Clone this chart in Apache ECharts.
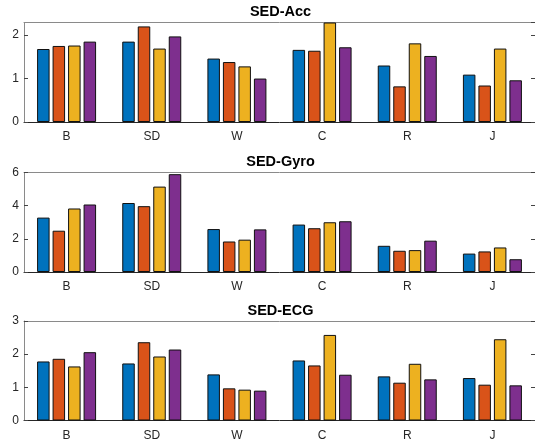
<!DOCTYPE html>
<html>
<head>
<meta charset="utf-8">
<script src="https://cdn.jsdelivr.net/npm/echarts@6/dist/echarts.min.js"></script>
<style>html,body{margin:0;padding:0;background:#fff;}#c{width:535px;height:443px;}</style>
</head>
<body>
<div id="c"></div>
<script>
var categories = ['B', 'SD', 'W', 'C', 'R', 'J'];
var titles = ['SED-Acc', 'SED-Gyro', 'SED-ECG'];
var yMax = [2.29, 6, 3];
var yTicks = [[0, 1, 2], [0, 2, 4, 6], [0, 1, 2, 3]];
var colors = ['#0072BD', '#D95319', '#EDB120', '#7E2F8E'];

// SED-Acc
var acc1 = [1.68, 1.85, 1.46, 1.66, 1.30, 1.09];
var acc2 = [1.75, 2.20, 1.38, 1.64, 0.82, 0.84];
var acc3 = [1.76, 1.69, 1.28, 2.29, 1.81, 1.69];
var acc4 = [1.85, 1.97, 1.00, 1.72, 1.52, 0.96];
// SED-Gyro
var gyro1 = [3.28, 4.16, 2.59, 2.86, 1.58, 1.11];
var gyro2 = [2.49, 3.97, 1.84, 2.64, 1.28, 1.24];
var gyro3 = [3.83, 5.15, 1.95, 3.00, 1.32, 1.48];
var gyro4 = [4.07, 5.90, 2.57, 3.06, 1.89, 0.77];
// SED-ECG
var ecg1 = [1.78, 1.72, 1.39, 1.81, 1.33, 1.28];
var ecg2 = [1.86, 2.36, 0.97, 1.66, 1.14, 1.08];
var ecg3 = [1.63, 1.93, 0.93, 2.58, 1.71, 2.45];
var ecg4 = [2.06, 2.14, 0.90, 1.38, 1.24, 1.06];

var panels = [[acc1, acc2, acc3, acc4], [gyro1, gyro2, gyro3, gyro4], [ecg1, ecg2, ecg3, ecg4]];

var gridTops = [22.5, 172.5, 321];
var gridH = 99.5;
var plotLeft = 24, plotW = 514;
var titleMid = [12.3, 162, 310.5];

var grids = [], xAxes = [], yAxes = [], series = [], graphics = [];
var font = 'Liberation Sans, Arial, Helvetica, sans-serif';
for (var p = 0; p < 3; p++) {
  grids.push({left: plotLeft, top: gridTops[p], width: plotW, height: gridH, containLabel: false});
  graphics.push({type: 'text', x: 280.5, y: titleMid[p], silent: true,
    style: {text: titles[p], textAlign: 'center', textVerticalAlign: 'middle',
      font: 'bold 14.5px ' + font, fill: '#000'}});
  xAxes.push({type: 'category', gridIndex: p, data: categories, position: 'bottom',
    axisLine: {onZero: false, lineStyle: {color: '#262626', width: 1}},
    axisTick: {inside: true, length: 4, alignWithLabel: true, lineStyle: {color: '#6e6e6e'}},
    axisLabel: {color: '#262626', fontFamily: font, fontSize: 12, margin: 9},
    splitLine: {show: false}});
  xAxes.push({type: 'category', gridIndex: p, data: categories, position: 'top',
    axisLine: {onZero: false, lineStyle: {color: '#8a8a8a', width: 1}},
    axisTick: {inside: true, length: 4, alignWithLabel: true, lineStyle: {color: '#444'}},
    axisLabel: {show: false}, splitLine: {show: false}});
  var interval = yTicks[p][1] - yTicks[p][0];
  yAxes.push({type: 'value', gridIndex: p, min: 0, max: yMax[p], interval: interval, position: 'left',
    axisLine: {show: true, onZero: false, lineStyle: {color: '#8a8a8a', width: 1}},
    axisTick: {show: true, inside: true, length: 4, lineStyle: {color: '#444'}},
    axisLabel: {color: '#262626', fontFamily: font, fontSize: 12, margin: 5, showMaxLabel: yMax[p] % interval === 0},
    splitLine: {show: false}});
  yAxes.push({type: 'value', gridIndex: p, min: 0, max: yMax[p], interval: interval, position: 'right',
    axisLine: {show: true, onZero: false, lineStyle: {color: '#8a8a8a', width: 1}},
    axisTick: {show: true, inside: true, length: 4, lineStyle: {color: '#444'}},
    axisLabel: {show: false}, splitLine: {show: false}});
  for (var s = 0; s < 4; s++) {
    series.push({type: 'bar', xAxisIndex: 2 * p, yAxisIndex: 2 * p, data: panels[p][s],
      barWidth: 12.5, barGap: '24%',
      itemStyle: {color: colors[s], borderColor: '#111', borderWidth: 1},
      emphasis: {disabled: true}, animation: false});
  }
}

var chart = echarts.init(document.getElementById('c'), null, {renderer: 'canvas'});
chart.setOption({
  animation: false,
  backgroundColor: '#fff',
  grid: grids,
  xAxis: xAxes,
  yAxis: yAxes,
  series: series,
  graphic: graphics
});
</script>
</body>
</html>
